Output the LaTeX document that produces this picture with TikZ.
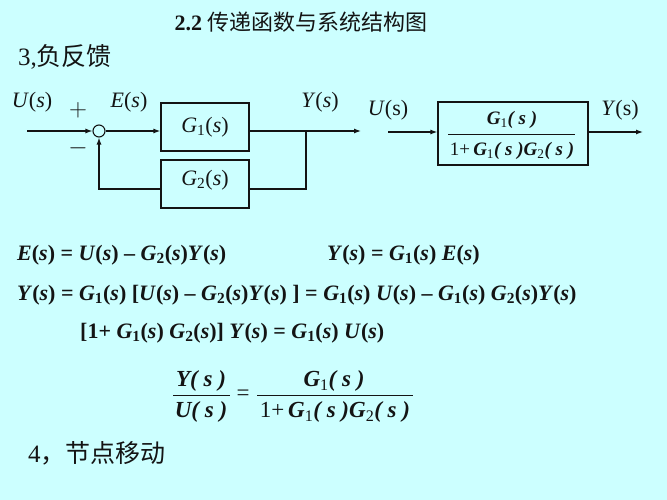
\documentclass[tikz,border=0pt]{standalone}
\usepackage{fontspec}
\setmainfont{Liberation Serif}
\newfontfamily\cjk{Noto Sans CJK SC}
\usetikzlibrary{arrows.meta}
\definecolor{bgcol}{RGB}{204,255,255}
\definecolor{ink}{RGB}{20,20,20}
\newcommand\bsub[1]{\textsubscript{#1}}
\begin{document}
\begin{tikzpicture}[x=1pt,y=-1pt,
  every node/.style={text=ink},
  blk/.style={draw=ink,line width=1.2pt,minimum width=88pt,minimum height=48pt,inner sep=0pt,font=\fontsize{22}{26}\selectfont},
  sumnode/.style={circle,draw=ink,line width=1.1pt,minimum size=12pt,inner sep=0pt},
  wire/.style={draw=ink,line width=1.2pt},
  arr/.style={wire,-{Latex[length=7pt,width=5pt]}},
  lab/.style={font=\fontsize{22}{26}\selectfont,inner sep=0pt},
  eq/.style={font=\fontsize{22}{26}\selectfont\bfseries,anchor=west,inner sep=0pt},
  frs/.style={font=\fontsize{19}{23}\selectfont,inner sep=0pt},
  frb/.style={font=\fontsize{23}{27}\selectfont,inner sep=0pt},
  cn/.style={font=\fontsize{25}{30}\selectfont,anchor=west,inner sep=0pt}]
\fill[bgcol] (0,0) rectangle (667,500);
\useasboundingbox (0,0) rectangle (667,500);

% title
\node[inner sep=0pt,font=\fontsize{22}{26}\selectfont] (title) at (301,22) {\textbf{2.2} {\cjk 传递函数与系统结构图}};
\node[cn] (sec3) at (18,57) {3,{\cjk 负反馈}};

% left block diagram
\coordinate (uin) at (27,131);
\node[sumnode] (sum) at (99,131) {};
\node[blk] (g1) at (205,127) {\textit{G}\bsub{1}(\textit{s})};
\node[blk] (g2) at (205,184) {\raisebox{12pt}{\textit{G}\bsub{2}(\textit{s})}};
\coordinate (br) at (306,131);
\coordinate (yout) at (361,131);
\coordinate (fbr) at (306,189);
\coordinate (fbl) at (99,189);

\draw[arr] (uin) -- (sum.west);
\draw[arr] (sum.east) -- (sum.east -| g1.west);
\draw[arr] (g1.east |- br) -- (yout);
\draw[wire] (br) -- (fbr) -- (fbr -| g2.east);
\draw[arr] (fbl -| g2.west) -- (fbl) -- (sum.south);

\node[lab] (lu) at (32,102) {\textit{U}(\textit{s})};
\node[lab] (le) at (129,102) {\textit{E}(\textit{s})};
\node[lab] (ly) at (320,102) {\textit{Y}(\textit{s})};
\node[inner sep=0pt,font=\fontsize{30}{32}\selectfont] (plus) at (78,110) {$+$};
\node[inner sep=0pt,font=\fontsize{30}{32}\selectfont] (minus) at (78,148) {$-$};

% right block diagram
\coordinate (uin2) at (388,132);
\node[draw=ink,line width=1.2pt,minimum width=150pt,minimum height=63pt,inner sep=0pt] (cl) at (513,133.5) {};
\coordinate (yout2) at (643,132);
\draw[arr] (uin2) -- (uin2 -| cl.west);
\draw[arr] (cl.east |- yout2) -- (yout2);
\node[lab] (lu2) at (388,110) {\textit{U}(s)};
\node[lab] (ly2) at (620,110) {\textit{Y}(s)};
\node[frs] (n1) at (512,120) {\textbf{\textit{G}}\bsub{1}\textbf{\textit{( s )}}};
\draw[ink,line width=1pt] (448,135) -- (575,135);
\node[frs] (d1) at (512,151) {1+\,\textbf{\textit{G}}\bsub{1}\textbf{\textit{( s )G}}\bsub{2}\textbf{\textit{( s )}}};

% equations
\node[eq] (e1) at (17,255) {\textit{E}(\textit{s}) = \textit{U}(\textit{s}) – \textit{G}\bsub{2}(\textit{s})\textit{Y}(\textit{s})};
\node[eq] (e2) at (327,255) {\textit{Y}(\textit{s}) = \textit{G}\bsub{1}(\textit{s}) \textit{E}(\textit{s})};
\node[eq] (e3) at (17,295) {\textit{Y}(\textit{s}) = \textit{G}\bsub{1}(\textit{s}) [\textit{U}(\textit{s}) – \textit{G}\bsub{2}(\textit{s})\textit{Y}(\textit{s}) ] = \textit{G}\bsub{1}(\textit{s}) \textit{U}(\textit{s}) – \textit{G}\bsub{1}(\textit{s}) \textit{G}\bsub{2}(\textit{s})\textit{Y}(\textit{s})};
\node[eq] (e4) at (80,333) {[1+ \textit{G}\bsub{1}(\textit{s}) \textit{G}\bsub{2}(\textit{s})] \textit{Y}(\textit{s}) = \textit{G}\bsub{1}(\textit{s}) \textit{U}(\textit{s})};

% final fraction
\node[frb] (fn1) at (201,381) {\textbf{\textit{Y( s )}}};
\draw[ink,line width=1pt] (173,395) -- (230,395);
\node[frb] (fd1) at (201,412) {\textbf{\textit{U( s )}}};
\node[frb] (feq) at (243,395) {=};
\node[frb] (fn2) at (334,381) {\textbf{\textit{G}}\bsub{1}\textbf{\textit{( s )}}};
\draw[ink,line width=1pt] (257,395) -- (413,395);
\node[frb] (fd2) at (335,412) {1+\,\textbf{\textit{G}}\bsub{1}\textbf{\textit{( s )G}}\bsub{2}\textbf{\textit{( s )}}};

\node[cn] (sec4) at (28,453) {4{\cjk ，节点移动}};
\end{tikzpicture}
\end{document}
